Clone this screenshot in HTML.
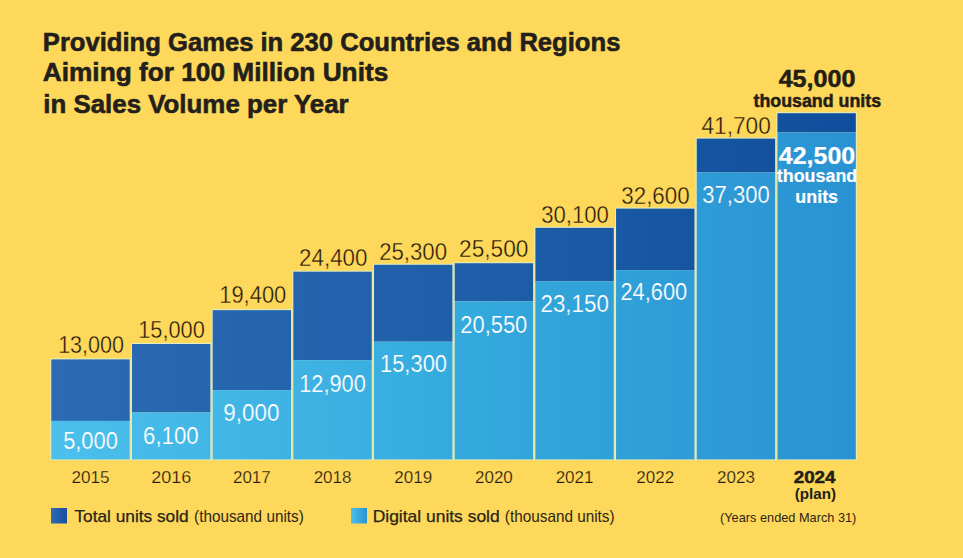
<!DOCTYPE html>
<html><head><meta charset="utf-8"><style>
html,body{margin:0;padding:0;background:#FED85A;}
body{width:963px;height:558px;overflow:hidden;position:relative;font-family:"Liberation Sans",sans-serif;}
svg{position:absolute;left:0;top:0;}
text{font-family:"Liberation Sans",sans-serif;}
</style></head><body>
<svg width="963" height="558" viewBox="0 0 963 558">
<defs>
<linearGradient id="gd" gradientUnits="userSpaceOnUse" x1="51" y1="0" x2="856" y2="0">
<stop offset="0" stop-color="#2C6BB3"/><stop offset="0.55" stop-color="#1E5DA8"/><stop offset="1" stop-color="#104E9D"/>
</linearGradient>
<linearGradient id="gl" gradientUnits="userSpaceOnUse" x1="51" y1="0" x2="856" y2="0">
<stop offset="0" stop-color="#4BC0EC"/><stop offset="0.55" stop-color="#33A8DC"/><stop offset="1" stop-color="#2A92D2"/>
</linearGradient>
<linearGradient id="sd" x1="0" y1="0" x2="1" y2="0"><stop offset="0" stop-color="#2E6DB5"/><stop offset="1" stop-color="#1A4D9E"/></linearGradient>
<linearGradient id="sl" x1="0" y1="0" x2="1" y2="0"><stop offset="0" stop-color="#4BC0EC"/><stop offset="1" stop-color="#2A92D2"/></linearGradient>
</defs>
<rect x="0" y="0" width="963" height="558" fill="#FED85A"/>
<rect x="50.30" y="358.39" width="80.40" height="101.81" fill="#E2EDC2"/>
<rect x="130.98" y="343.00" width="80.40" height="117.19" fill="#E2EDC2"/>
<rect x="211.66" y="309.16" width="80.40" height="151.04" fill="#E2EDC2"/>
<rect x="292.34" y="270.69" width="80.40" height="189.51" fill="#E2EDC2"/>
<rect x="373.02" y="263.77" width="80.40" height="196.43" fill="#E2EDC2"/>
<rect x="453.70" y="262.23" width="80.40" height="197.97" fill="#E2EDC2"/>
<rect x="534.38" y="226.84" width="80.40" height="233.36" fill="#E2EDC2"/>
<rect x="615.06" y="207.61" width="80.40" height="252.59" fill="#E2EDC2"/>
<rect x="695.74" y="137.60" width="80.40" height="322.60" fill="#E2EDC2"/>
<rect x="776.42" y="112.21" width="80.40" height="347.99" fill="#E2EDC2"/>
<rect x="51.30" y="359.39" width="78.40" height="61.54" fill="url(#gd)"/>
<rect x="51.30" y="420.93" width="78.40" height="38.47" fill="url(#gl)"/>
<rect x="131.98" y="344.00" width="78.40" height="68.47" fill="url(#gd)"/>
<rect x="131.98" y="412.47" width="78.40" height="46.93" fill="url(#gl)"/>
<rect x="212.66" y="310.16" width="78.40" height="80.01" fill="url(#gd)"/>
<rect x="212.66" y="390.16" width="78.40" height="69.24" fill="url(#gl)"/>
<rect x="293.34" y="271.69" width="78.40" height="88.47" fill="url(#gd)"/>
<rect x="293.34" y="360.16" width="78.40" height="99.24" fill="url(#gl)"/>
<rect x="374.02" y="264.77" width="78.40" height="76.93" fill="url(#gd)"/>
<rect x="374.02" y="341.70" width="78.40" height="117.70" fill="url(#gl)"/>
<rect x="454.70" y="263.23" width="78.40" height="38.08" fill="url(#gd)"/>
<rect x="454.70" y="301.31" width="78.40" height="158.09" fill="url(#gl)"/>
<rect x="535.38" y="227.84" width="78.40" height="53.47" fill="url(#gd)"/>
<rect x="535.38" y="281.31" width="78.40" height="178.09" fill="url(#gl)"/>
<rect x="616.06" y="208.61" width="78.40" height="61.54" fill="url(#gd)"/>
<rect x="616.06" y="270.15" width="78.40" height="189.25" fill="url(#gl)"/>
<rect x="696.74" y="138.60" width="78.40" height="33.85" fill="url(#gd)"/>
<rect x="696.74" y="172.45" width="78.40" height="286.95" fill="url(#gl)"/>
<rect x="777.42" y="113.21" width="78.40" height="19.23" fill="url(#gd)"/>
<rect x="777.42" y="132.45" width="78.40" height="326.95" fill="url(#gl)"/>
<text id="t0" x="91.10" y="352.89" text-anchor="middle" font-size="23.2" fill="#1F190D" textLength="65.95" lengthAdjust="spacingAndGlyphs" stroke="#FED85A" stroke-width="0.35">13,000</text>
<text id="d0" x="90.50" y="449.23" text-anchor="middle" font-size="23" fill="#FFFFFF" textLength="54.73" lengthAdjust="spacingAndGlyphs" stroke="url(#gl)" stroke-width="0.2">5,000</text>
<text id="y0" x="90.60" y="482.80" text-anchor="middle" font-size="17" fill="#1F190D" textLength="38.09" lengthAdjust="spacingAndGlyphs" stroke="#FED85A" stroke-width="0.25">2015</text>
<text id="t1" x="171.48" y="337.50" text-anchor="middle" font-size="23.2" fill="#1F190D" textLength="66.66" lengthAdjust="spacingAndGlyphs" stroke="#FED85A" stroke-width="0.35">15,000</text>
<text id="d1" x="170.88" y="444.47" text-anchor="middle" font-size="23" fill="#FFFFFF" textLength="55.76" lengthAdjust="spacingAndGlyphs" stroke="url(#gl)" stroke-width="0.2">6,100</text>
<text id="y1" x="171.18" y="482.80" text-anchor="middle" font-size="17" fill="#1F190D" textLength="40.00" lengthAdjust="spacingAndGlyphs" stroke="#FED85A" stroke-width="0.25">2016</text>
<text id="t2" x="252.76" y="303.46" text-anchor="middle" font-size="23.2" fill="#1F190D" textLength="67.03" lengthAdjust="spacingAndGlyphs" stroke="#FED85A" stroke-width="0.35">19,400</text>
<text id="d2" x="251.36" y="421.16" text-anchor="middle" font-size="23" fill="#FFFFFF" textLength="56.18" lengthAdjust="spacingAndGlyphs" stroke="url(#gl)" stroke-width="0.2">9,000</text>
<text id="y2" x="251.86" y="483.00" text-anchor="middle" font-size="17" fill="#1F190D" stroke="#FED85A" stroke-width="0.25">2017</text>
<text id="t3" x="333.24" y="265.99" text-anchor="middle" font-size="23.2" fill="#1F190D" textLength="68.26" lengthAdjust="spacingAndGlyphs" stroke="#FED85A" stroke-width="0.35">24,400</text>
<text id="d3" x="332.54" y="392.16" text-anchor="middle" font-size="23" fill="#FFFFFF" textLength="66.74" lengthAdjust="spacingAndGlyphs" stroke="url(#gl)" stroke-width="0.2">12,900</text>
<text id="y3" x="332.54" y="483.00" text-anchor="middle" font-size="17" fill="#1F190D" stroke="#FED85A" stroke-width="0.25">2018</text>
<text id="t4" x="413.12" y="260.17" text-anchor="middle" font-size="23.2" fill="#1F190D" textLength="67.85" lengthAdjust="spacingAndGlyphs" stroke="#FED85A" stroke-width="0.35">25,300</text>
<text id="d4" x="413.52" y="372.30" text-anchor="middle" font-size="23" fill="#FFFFFF" textLength="67.02" lengthAdjust="spacingAndGlyphs" stroke="url(#gl)" stroke-width="0.2">15,300</text>
<text id="y4" x="413.22" y="483.00" text-anchor="middle" font-size="17" fill="#1F190D" stroke="#FED85A" stroke-width="0.25">2019</text>
<text id="t5" x="493.70" y="256.53" text-anchor="middle" font-size="23.2" fill="#1F190D" textLength="69.32" lengthAdjust="spacingAndGlyphs" stroke="#FED85A" stroke-width="0.35">25,500</text>
<text id="d5" x="493.80" y="333.31" text-anchor="middle" font-size="23" fill="#FFFFFF" textLength="67.00" lengthAdjust="spacingAndGlyphs" stroke="url(#gl)" stroke-width="0.2">20,550</text>
<text id="y5" x="493.90" y="483.00" text-anchor="middle" font-size="17" fill="#1F190D" stroke="#FED85A" stroke-width="0.25">2020</text>
<text id="t6" x="574.98" y="222.74" text-anchor="middle" font-size="23.2" fill="#1F190D" textLength="67.68" lengthAdjust="spacingAndGlyphs" stroke="#FED85A" stroke-width="0.35">30,100</text>
<text id="d6" x="574.68" y="312.31" text-anchor="middle" font-size="23" fill="#FFFFFF" textLength="68.28" lengthAdjust="spacingAndGlyphs" stroke="url(#gl)" stroke-width="0.2">23,150</text>
<text id="y6" x="574.58" y="483.00" text-anchor="middle" font-size="17" fill="#1F190D" stroke="#FED85A" stroke-width="0.25">2021</text>
<text id="t7" x="655.46" y="204.11" text-anchor="middle" font-size="23.2" fill="#1F190D" textLength="68.45" lengthAdjust="spacingAndGlyphs" stroke="#FED85A" stroke-width="0.35">32,600</text>
<text id="d7" x="653.86" y="299.65" text-anchor="middle" font-size="23" fill="#FFFFFF" textLength="66.80" lengthAdjust="spacingAndGlyphs" stroke="url(#gl)" stroke-width="0.2">24,600</text>
<text id="y7" x="655.26" y="483.00" text-anchor="middle" font-size="17" fill="#1F190D" stroke="#FED85A" stroke-width="0.25">2022</text>
<text id="t8" x="736.14" y="133.80" text-anchor="middle" font-size="23.2" fill="#1F190D" textLength="69.26" lengthAdjust="spacingAndGlyphs" stroke="#FED85A" stroke-width="0.35">41,700</text>
<text id="d8" x="736.04" y="203.45" text-anchor="middle" font-size="23" fill="#FFFFFF" textLength="67.43" lengthAdjust="spacingAndGlyphs" stroke="url(#gl)" stroke-width="0.2">37,300</text>
<text id="y8" x="735.94" y="483.00" text-anchor="middle" font-size="17" fill="#1F190D" stroke="#FED85A" stroke-width="0.25">2023</text>
<text id="big1" x="817.02" y="87.00" text-anchor="middle" font-size="23.5" fill="#231E16" font-weight="bold" textLength="76.79" lengthAdjust="spacingAndGlyphs" stroke="#231E16" stroke-width="0.5">45,000</text>
<text id="big2" x="817.32" y="107.20" text-anchor="middle" font-size="18" fill="#231E16" font-weight="bold" textLength="127.61" lengthAdjust="spacingAndGlyphs" stroke="#231E16" stroke-width="0.5">thousand units</text>
<text id="w1" x="817.02" y="164.10" text-anchor="middle" font-size="23" fill="#FFFFFF" font-weight="bold" textLength="76.51" lengthAdjust="spacingAndGlyphs" stroke="#FFFFFF" stroke-width="0.2">42,500</text>
<text id="w2" x="817.02" y="182.00" text-anchor="middle" font-size="18.5" fill="#FFFFFF" font-weight="bold" textLength="80.41" lengthAdjust="spacingAndGlyphs" stroke="#FFFFFF" stroke-width="0.2">thousand</text>
<text id="w3" x="816.72" y="202.80" text-anchor="middle" font-size="18.5" fill="#FFFFFF" font-weight="bold" textLength="42.76" lengthAdjust="spacingAndGlyphs" stroke="#FFFFFF" stroke-width="0.2">units</text>
<text id="y9" x="814.62" y="482.60" text-anchor="middle" font-size="17" fill="#231E16" font-weight="bold" textLength="41.81" lengthAdjust="spacingAndGlyphs" stroke="#231E16" stroke-width="0.5">2024</text>
<text id="plan" x="815.42" y="499.00" text-anchor="middle" font-size="15" fill="#231E16" font-weight="bold" textLength="41.31" lengthAdjust="spacingAndGlyphs">(plan)</text>
<text id="ti1" x="42.84" y="50.70" text-anchor="start" font-size="26.2" fill="#231F1A" font-weight="bold" textLength="577.55" lengthAdjust="spacingAndGlyphs" stroke="#231F1A" stroke-width="0.6">Providing Games in 230 Countries and Regions</text>
<text id="ti2" x="42.80" y="81.40" text-anchor="start" font-size="26.2" fill="#231F1A" font-weight="bold" textLength="345.45" lengthAdjust="spacingAndGlyphs" stroke="#231F1A" stroke-width="0.6">Aiming for 100 Million Units</text>
<text id="ti3" x="43.21" y="112.50" text-anchor="start" font-size="26.2" fill="#231F1A" font-weight="bold" textLength="305.47" lengthAdjust="spacingAndGlyphs" stroke="#231F1A" stroke-width="0.6">in Sales Volume per Year</text>
<rect x="51" y="508" width="16" height="15.5" fill="url(#sd)"/>
<rect x="351" y="508" width="16" height="15.5" fill="url(#sl)"/>
<text id="lg1a" x="74.40" y="521.80" text-anchor="start" font-size="16.5" fill="#2A2418" textLength="114.29" lengthAdjust="spacingAndGlyphs" stroke="#2A2418" stroke-width="0.25">Total units sold</text>
<text id="lg1b" x="194.04" y="522.00" text-anchor="start" font-size="16.5" fill="#2E2616" textLength="109.80" lengthAdjust="spacingAndGlyphs">(thousand units)</text>
<text id="lg2a" x="372.66" y="521.80" text-anchor="start" font-size="16.5" fill="#2A2418" textLength="127.04" lengthAdjust="spacingAndGlyphs" stroke="#2A2418" stroke-width="0.25">Digital units sold</text>
<text id="lg2b" x="504.85" y="522.00" text-anchor="start" font-size="16.5" fill="#2E2616" textLength="109.79" lengthAdjust="spacingAndGlyphs">(thousand units)</text>
<text id="ye" x="720.06" y="522.00" text-anchor="start" font-size="13.5" fill="#2E2412" textLength="136.28" lengthAdjust="spacingAndGlyphs">(Years ended March 31)</text>
</svg>
</body></html>
